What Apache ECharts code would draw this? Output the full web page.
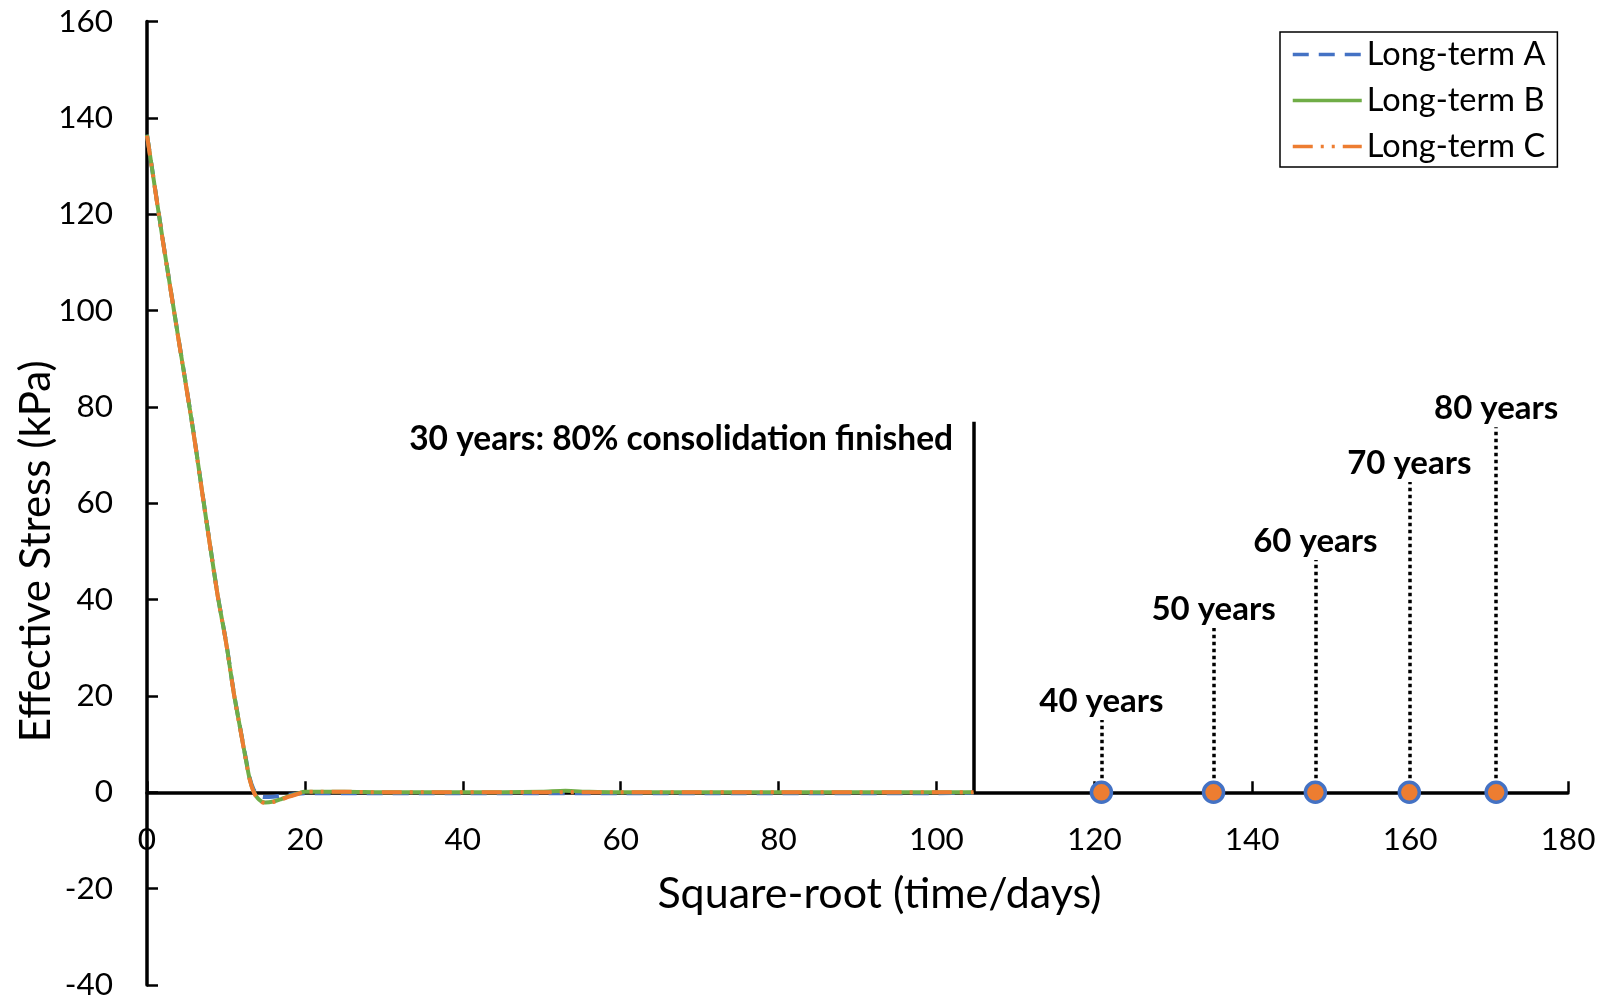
<!DOCTYPE html>
<html>
<head>
<meta charset="utf-8">
<script src="https://cdn.jsdelivr.net/npm/echarts@6/dist/echarts.min.js"></script>
<style>
html,body{margin:0;padding:0;background:#fff;}
#chart{width:1609px;height:1006px;}
</style>
</head>
<body>
<div id="chart"></div>
<script>
// ---- Data ----
var seriesNames = ['Long-term A', 'Long-term B', 'Long-term C'];

var xA = [0, 1, 2, 3, 4, 5, 6, 7, 8, 9, 10, 11, 12, 12.5, 13, 13.5, 14, 14.5, 15, 16, 17, 18, 19, 20, 22, 25, 30, 35, 40, 45, 50, 55, 60, 65, 70, 75, 80, 85, 90, 95, 100, 104.7];
var yA = [136.5, 125.6, 114.7, 104.3, 94.1, 84.0, 73.6, 62.3, 51.2, 40.5, 31.4, 20.7, 11.6, 7.2, 3.0, 0.6, -0.5, -0.9, -1.0, -0.9, -0.7, -0.5, -0.3, -0.2, -0.2, -0.2, -0.2, -0.2, -0.2, -0.2, -0.2, -0.2, -0.2, -0.2, -0.2, -0.2, -0.2, -0.2, -0.2, -0.2, -0.2, -0.1];

var xB = [0, 1, 2, 3, 4, 5, 6, 7, 8, 9, 10, 11, 12, 12.5, 13, 13.5, 14, 14.5, 15, 16, 17, 18, 19, 20, 22, 25, 30, 35, 40, 45, 50, 53, 56, 60, 65, 70, 75, 80, 85, 90, 95, 100, 104.7];
var yB = [136.5, 125.5, 114.6, 104.3, 94.0, 83.9, 73.5, 62.2, 51.1, 40.4, 31.3, 20.6, 11.5, 7.0, 2.8, 0.2, -1.2, -1.9, -2.1, -1.9, -1.4, -0.8, -0.3, 0.1, 0.1, 0.1, 0.0, 0.0, 0.0, 0.0, 0.1, 0.3, 0.1, 0.0, 0.0, 0.0, 0.0, 0.0, 0.0, 0.0, 0.0, 0.0, 0.0];

var xC = [0, 1, 2, 3, 4, 5, 6, 7, 8, 9, 10, 11, 12, 12.5, 13, 13.5, 14, 14.5, 15, 16, 17, 18, 19, 20, 22, 25, 30, 35, 40, 45, 50, 55, 60, 65, 70, 75, 80, 85, 90, 95, 100, 104.7];
var yC = [136.3, 125.4, 114.5, 104.2, 93.9, 83.8, 73.4, 62.1, 51.0, 40.3, 31.2, 20.5, 11.4, 6.9, 2.7, 0.1, -1.3, -2.0, -2.2, -2.0, -1.5, -0.9, -0.4, 0.1, 0.1, 0.1, 0.0, 0.0, 0.0, 0.0, 0.0, 0.0, 0.0, 0.0, 0.0, 0.0, 0.0, 0.0, 0.0, 0.0, 0.0, 0.0];

var markerLabels = ['40 years', '50 years', '60 years', '70 years', '80 years'];
var markerX = [120.9, 135.1, 148.0, 159.9, 170.9];
var markerY = [0, 0, 0, 0, 0];
var markerLineTop = [15.0, 34.1, 48.2, 64.4, 75.8];

var consolidationLabel = '30 years: 80% consolidation finished';
var consolidationX = 104.7;
var consolidationTop = 76.9;
var consolidationLabelY = 73.3;

var xTicks = {min: 0, max: 180, interval: 20};
var yTicks = {min: -40, max: 160, interval: 20};
var xAxisCrossesY = 0;

// ---- Build chart ----
function zip(xs, ys) { return xs.map(function (x, i) { return [x, ys[i]]; }); }

var FONT = 'Lato';
var chart = echarts.init(document.getElementById('chart'), null, {renderer: 'canvas'});

var dottedLines = markerX.map(function (x, i) {
  return [
    {coord: [x, markerY[i]]},
    {coord: [x, markerLineTop[i]], label: {formatter: markerLabels[i]}}
  ];
});

var option = {
  animation: false,
  backgroundColor: '#fff',
  textStyle: {fontFamily: FONT, color: '#000'},
  grid: {left: 147, right: 41, top: 21.5, bottom: 21, containLabel: false, outerBoundsMode: 'none'},
  legend: {
    data: seriesNames,
    orient: 'vertical',
    left: 1280,
    top: 32,
    borderColor: '#000',
    borderWidth: 1.5,
    padding: [6, 12, 4, 11],
    itemWidth: 69,
    itemHeight: 30,
    itemGap: 13,
    itemStyle: {opacity: 0},
    lineStyle: {width: 3.5},
    textStyle: {fontFamily: FONT, fontSize: 32.5, color: '#000'}
  },
  xAxis: {
    type: 'value',
    min: xTicks.min, max: xTicks.max, interval: xTicks.interval,
    name: 'Square-root (time/days)',
    nameLocation: 'middle',
    nameGap: 80,
    nameTextStyle: {fontFamily: FONT, fontSize: 43, color: '#000', padding: [0, 0, 0, 44]},
    axisLine: {onZero: false, lineStyle: {color: '#000', width: 3.5}},
    axisTick: {show: true, inside: true, length: 11, lineStyle: {color: '#000', width: 2.5}},
    axisLabel: {margin: 32, fontSize: 31.5, color: '#000', fontFamily: FONT},
    splitLine: {show: false},
    offset: 0
  },
  yAxis: {
    type: 'value',
    min: yTicks.min, max: yTicks.max, interval: yTicks.interval,
    name: 'Effective Stress (kPa)',
    nameLocation: 'middle',
    nameGap: 90,
    nameMoveOverlap: false,
    nameTextStyle: {fontFamily: FONT, fontSize: 42, color: '#000', padding: [0, 96, 0, 0]},
    axisLine: {onZero: false, lineStyle: {color: '#000', width: 3.5}},
    axisTick: {show: true, inside: true, length: 11, lineStyle: {color: '#000', width: 2.5}},
    axisLabel: {margin: 34, fontSize: 31.5, color: '#000', fontFamily: FONT},
    splitLine: {show: false}
  },
  series: [
    {
      name: seriesNames[0], type: 'line', data: zip(xA, yA), symbol: 'none', smooth: 0.3, z: 3,
      lineStyle: {color: '#4472C4', width: 4, type: [16, 10]},
      itemStyle: {color: '#4472C4'}
    },
    {
      name: seriesNames[1], type: 'line', data: zip(xB, yB), symbol: 'none', smooth: 0.3, z: 4,
      lineStyle: {color: '#70AD47', width: 4, type: 'solid'},
      itemStyle: {color: '#70AD47'},
      markLine: {
        silent: true, symbol: ['none', 'none'], animation: false,
        lineStyle: {color: '#000', width: 3.5, type: 'solid'},
        label: {show: false},
        data: [[{coord: [consolidationX, 0]}, {coord: [consolidationX, consolidationTop]}]]
      },
      markPoint: {
        silent: true, animation: false, symbol: 'circle', symbolSize: 1,
        itemStyle: {color: 'rgba(0,0,0,0)'},
        label: {show: true, position: 'left', distance: 20, formatter: consolidationLabel,
          fontFamily: FONT, fontWeight: 'bold', fontSize: 33.5, color: '#000'},
        data: [{coord: [consolidationX, consolidationLabelY]}]
      }
    },
    {
      name: seriesNames[2], type: 'line', data: zip(xC, yC), symbol: 'none', smooth: 0.3, z: 5,
      lineStyle: {color: '#ED7D31', width: 4, type: [20, 8, 3, 8, 3, 8]},
      itemStyle: {color: '#ED7D31'}
    },
    {
      type: 'scatter', data: zip(markerX, markerY), symbol: 'circle', symbolSize: 20, z: 10,
      itemStyle: {color: '#ED7D31', borderColor: '#4472C4', borderWidth: 3.5, opacity: 1},
      markLine: {
        silent: true, symbol: ['none', 'none'], animation: false, z: 6,
        lineStyle: {color: '#000', width: 3.5, type: [3.5, 3.5]},
        label: {show: true, position: 'end', distance: 2, fontFamily: FONT, fontWeight: 'bold', fontSize: 33, color: '#000'},
        data: dottedLines
      }
    }
  ]
};
chart.setOption(option);

// Move the x axis (line, ticks, labels, title) up so it crosses the y axis at 0,
// using the y axis scale to find where 0 lies.
var zeroPx = chart.convertToPixel({yAxisIndex: 0}, xAxisCrossesY);
var bottomPx = chart.convertToPixel({yAxisIndex: 0}, yTicks.min);
chart.setOption({xAxis: {offset: zeroPx - bottomPx}});
</script>
</body>
</html>
